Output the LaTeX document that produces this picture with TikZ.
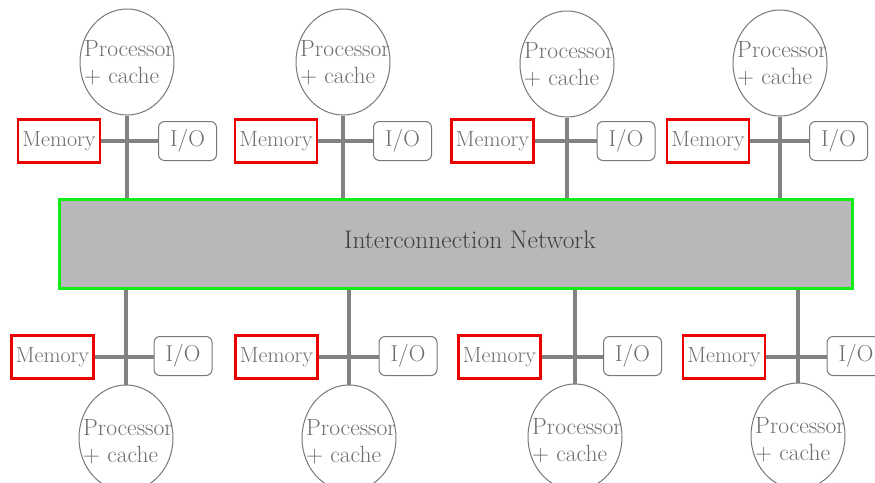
\documentclass[tikz,border=0pt]{standalone}
\usetikzlibrary{shapes.geometric}
\definecolor{linegray}{RGB}{130,130,130}
\definecolor{outgray}{RGB}{120,120,120}
\definecolor{txtgray}{RGB}{110,110,110}
\definecolor{netfill}{RGB}{184,184,186}
\definecolor{netgreen}{RGB}{20,235,20}
\definecolor{memred}{RGB}{235,0,0}
\begin{document}
\begin{tikzpicture}[x=1pt,y=-1pt,
  proc/.style={ellipse, draw=outgray, line width=1pt, minimum width=94pt, minimum height=106pt, inner sep=0pt},
  proclabel/.style={align=left, inner sep=0pt, text=txtgray, font=\fontsize{23.5}{27}\selectfont},
  mem/.style={rectangle, draw=memred, line width=2.6pt, minimum width=82pt, minimum height=43pt, inner sep=0pt,
    text=txtgray, font=\fontsize{22}{24}\selectfont},
  io/.style={rectangle, rounded corners=6pt, draw=outgray, line width=1pt, minimum width=58pt, minimum height=39pt, inner sep=0pt,
    text=txtgray, font=\fontsize{23}{24}\selectfont},
  bus/.style={draw=linegray, line width=4.5pt},
  hbus/.style={draw=linegray, line width=3.5pt},
  net/.style={rectangle, draw=netgreen, line width=3pt, fill=netfill, minimum width=793pt, minimum height=89pt},
  netlabel/.style={text=black!75, font=\fontsize{25.5}{28}\selectfont}
]
\useasboundingbox (0,0) rectangle (875,482);
\fill[white] (0,0) rectangle (875,482);

% interconnection network
\node[net] (N) at (455.5,243.5) {};
\node[netlabel] (NL) at (470,240) {Interconnection Network};

% top row
\node[proc] (p1) at (127,62) {};
\node[proc] (p2) at (343,62) {};
\node[proc] (p3) at (567,64) {};
\node[proc] (p4) at (780,63) {};
\node[proclabel] (p1t) at (129,63) {Processor\\+ cache};
\node[proclabel] (p2t) at (345,63) {Processor\\+ cache};
\node[proclabel] (p3t) at (569,65) {Processor\\+ cache};
\node[proclabel] (p4t) at (782,64) {Processor\\+ cache};

\node[mem] (m1) at (59,141) {Memory};
\node[mem] (m2) at (276,141) {Memory};
\node[mem] (m3) at (492.5,141) {Memory};
\node[mem] (m4) at (708,141) {Memory};

\node[io] (i1) at (187.5,141) {I/O};
\node[io] (i2) at (402.5,141) {I/O};
\node[io] (i3) at (626,141) {I/O};
\node[io] (i4) at (838.5,141) {I/O};

% bottom row
\node[proc] (q1) at (126,438) {};
\node[proc] (q2) at (349,438) {};
\node[proc] (q3) at (575,437) {};
\node[proc] (q4) at (798,436) {};
\node[proclabel] (q1t) at (128,442) {Processor\\+ cache};
\node[proclabel] (q2t) at (351,442) {Processor\\+ cache};
\node[proclabel] (q3t) at (577,441) {Processor\\+ cache};
\node[proclabel] (q4t) at (800,440) {Processor\\+ cache};

\node[mem] (n1) at (52.5,357) {Memory};
\node[mem] (n2) at (276.5,357) {Memory};
\node[mem] (n3) at (499.5,357) {Memory};
\node[mem] (n4) at (724,357) {Memory};

\node[io] (j1) at (183,356) {I/O};
\node[io] (j2) at (408,356) {I/O};
\node[io] (j3) at (632.5,356) {I/O};
\node[io] (j4) at (856,356) {I/O};

% connectors
\foreach \p/\m/\i in {p1/m1/i1,p2/m2/i2,p3/m3/i3,p4/m4/i4}{
  \draw[bus] (\p.south) -- (\p.south |- N.north);
  \draw[hbus] (\m.east) -- (\m.east -| \i.west);
}
\foreach \p/\m/\i in {q1/n1/j1,q2/n2/j2,q3/n3/j3,q4/n4/j4}{
  \draw[bus] (\p.north) -- (\p.north |- N.south);
  \draw[hbus] (\m.east) -- (\m.east -| \i.west);
}
\end{tikzpicture}
\end{document}
